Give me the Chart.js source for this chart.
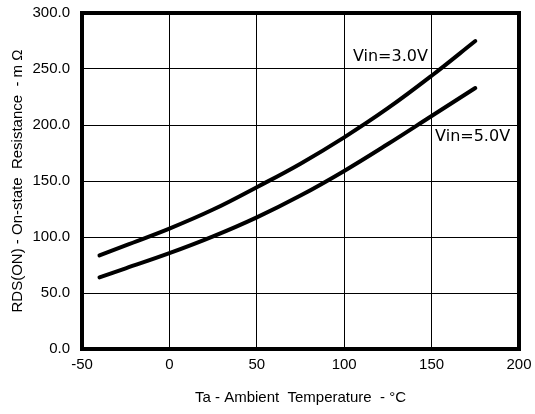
<!DOCTYPE html>
<html>
  <head>
    <title>RDS(ON) vs Ta</title>
    <meta charset="utf-8" />
    <script src="https://cdn.jsdelivr.net/npm/chart.js"></script>
    <style>
      html, body { margin: 0; padding: 0; background: #fff; }
      .canvas-container { width: 535px; height: 414px; }
    </style>
  </head>
  <body>
    <div class="canvas-container">
      <canvas id="RdsChart"></canvas>
    </div>
    <script>
      // 数据
      const temps = [-40, -25, 0, 25, 50, 75, 100, 125, 150, 175];
      const rds3v = [83.5, 92.5, 107.5, 124.5, 144.5, 165.5, 189, 215, 244, 275];
      const rds5v = [64, 72, 85.5, 100.5, 117.5, 137, 159, 183, 208, 233];
      const seriesNames = ['Vin=3.0V', 'Vin=5.0V'];
      // label anchor (data units) for each curve name
      const labelX = [105, 152];
      const labelY = [261, 189];

      const toPoints = (ys) => temps.map((t, i) => ({ x: t, y: ys[i] }));

      const frame = {
        id: 'frame',
        afterDatasetsDraw(chart) {
          const { ctx, chartArea: a, scales } = chart;
          ctx.save();
          ctx.strokeStyle = '#000';
          ctx.lineWidth = 4;
          ctx.strokeRect(a.left, a.top, a.right - a.left, a.bottom - a.top);
          // curve names
          ctx.font = '16px "DejaVu Sans"';
          ctx.fillStyle = '#000';
          ctx.textBaseline = 'middle';
          seriesNames.forEach((name, i) => {
            ctx.fillText(name, scales.x.getPixelForValue(labelX[i]), scales.y.getPixelForValue(labelY[i]));
          });
          ctx.restore();
        }
      };

      const tickFont = { family: '"Liberation Sans", Arial', size: 15 };

      new Chart(document.getElementById('RdsChart'), {
        type: 'line',
        data: {
          datasets: [
            { label: seriesNames[0], data: toPoints(rds3v) },
            { label: seriesNames[1], data: toPoints(rds5v) }
          ]
        },
        options: {
          responsive: true,
          maintainAspectRatio: false,
          animation: false,
          layout: { padding: { left: 0, right: 16, top: 13, bottom: 0 } },
          elements: {
            line: { borderColor: '#000', borderWidth: 4, tension: 0.4, borderCapStyle: 'round' },
            point: { radius: 0 }
          },
          plugins: { legend: { display: false }, tooltip: { enabled: false } },
          scales: {
            x: {
              type: 'linear',
              min: -50, max: 200,
              ticks: { stepSize: 50, color: '#000', font: tickFont, padding: 7, maxRotation: 0 },
              grid: { color: '#000', lineWidth: 1, drawTicks: false },
              border: { display: false },
              title: {
                display: true,
                text: 'Ta - Ambient  Temperature  - °C',
                color: '#000',
                font: tickFont,
                padding: { top: 4, bottom: 7 }
              },
              afterFit(scale) {
                scale.height = 65;
                scale.paddingLeft = 0;
                scale.paddingRight = 0;
              }
            },
            y: {
              min: 0, max: 300,
              ticks: {
                stepSize: 50, color: '#000', font: tickFont, padding: 12,
                callback: (v) => v.toFixed(1)
              },
              grid: { color: '#000', lineWidth: 1, drawTicks: false },
              border: { display: false },
              title: {
                display: true,
                text: 'RDS(ON) - On-state  Resistance  - m Ω',
                color: '#000',
                font: tickFont,
                padding: { top: 9, bottom: 4 }
              },
              afterFit(scale) {
                scale.width = 82;
                scale.paddingTop = 0;
                scale.paddingBottom = 0;
              }
            }
          }
        },
        plugins: [frame]
      });
    </script>
  </body>
</html>
